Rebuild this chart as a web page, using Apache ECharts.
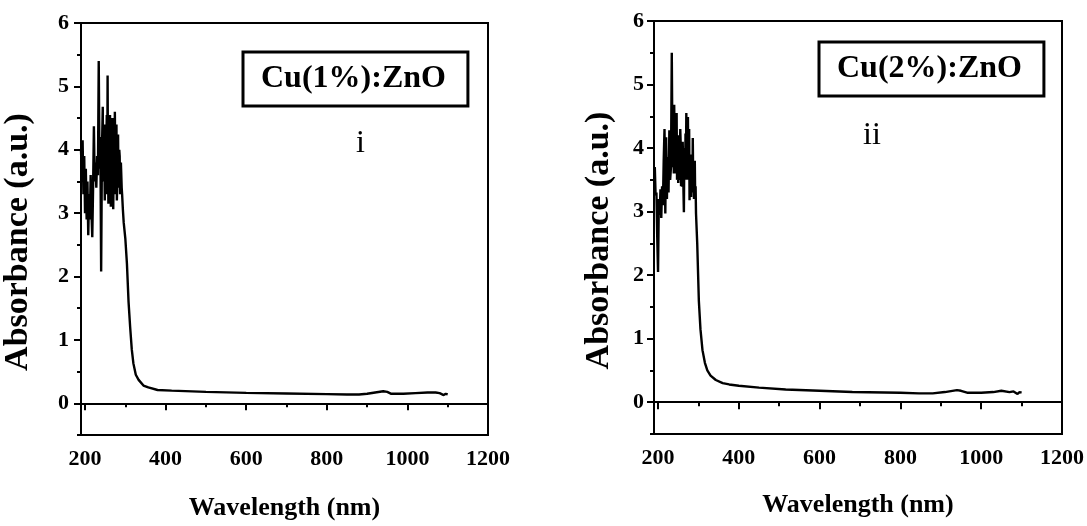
<!DOCTYPE html>
<html>
<head>
<meta charset="utf-8">
<script src="https://cdn.jsdelivr.net/npm/echarts@6.0.0/dist/echarts.min.js"></script>
<style>
  html, body { margin: 0; padding: 0; background: #fff; }
  #echart1 { width: 1087px; height: 526px; }
</style>
</head>
<body>
<div id="echart1"></div>
<script>
// tick labels
const xTicks = [200, 400, 600, 800, 1000, 1200];
const xMinor = [300, 500, 700, 900, 1100];
const yTicks = [0, 1, 2, 3, 4, 5, 6];
const yMinor = [-0.5, 0.5, 1.5, 2.5, 3.5, 4.5, 5.5];

// Cu(1%):ZnO
const wl1 = [
  190, 192, 194, 196, 198, 200, 202, 204, 206, 208,
  210, 212, 214, 216, 218, 220, 222, 224, 226, 228,
  230, 232, 234, 236, 238, 240, 242, 244, 245, 246,
  247, 248, 249, 250, 251, 252, 253, 254, 255, 256,
  257, 258, 259, 260, 261, 262, 263, 264, 265, 266,
  267, 268, 269, 270, 271, 272, 273, 274, 275, 276,
  277, 278, 279, 280, 281, 282, 283, 284, 285, 286,
  287, 288, 289, 290, 291, 292, 294, 296, 300, 304,
  308, 312, 316, 320, 326, 333, 345, 357, 380, 415,
  500, 600, 700, 800, 850, 880, 900, 920, 940, 950,
  960, 990, 1020, 1050, 1070, 1080, 1090, 1095, 1100];
const abs1 = [
  4.0, 3.6, 4.15, 3.3, 3.9, 3.0, 3.7, 2.9, 3.5, 2.65,
  3.3, 2.9, 3.6, 3.0, 2.62, 3.4, 4.37, 3.5, 3.8, 3.4,
  3.9, 3.6, 5.4, 3.7, 4.2, 2.08, 4.0, 4.68, 3.6, 3.5,
  4.1, 3.9, 3.2, 4.4, 3.7, 3.3, 4.2, 4.55, 3.4, 5.17,
  3.8, 3.15, 4.0, 4.3, 3.5, 4.55, 3.9, 3.1, 3.8, 4.2,
  3.3, 4.5, 3.9, 3.06, 3.7, 4.3, 3.5, 4.6, 4.0, 3.3,
  3.9, 4.4, 3.2, 3.5, 4.1, 4.24, 3.4, 3.6, 4.0, 3.9,
  3.3, 3.4, 3.8, 3.6, 3.4, 3.3, 3.05, 2.85, 2.6, 2.2,
  1.6, 1.2, 0.85, 0.63, 0.45, 0.37, 0.28, 0.25, 0.21, 0.2,
  0.18, 0.165, 0.155, 0.145, 0.14, 0.14, 0.15, 0.17, 0.19, 0.18,
  0.15, 0.15, 0.16, 0.17, 0.17, 0.16, 0.13, 0.15, 0.14];

// Cu(2%):ZnO
const wl2 = [
  192, 194, 196, 198, 200, 202, 204, 206, 208, 210,
  212, 214, 216, 218, 220, 222, 224, 226, 228, 230,
  232, 234, 236, 237, 238, 239, 240, 241, 242, 243,
  244, 245, 246, 247, 248, 249, 250, 251, 252, 253,
  254, 255, 256, 257, 258, 259, 260, 261, 262, 263,
  264, 265, 266, 267, 268, 269, 270, 271, 272, 273,
  274, 275, 276, 277, 278, 279, 280, 281, 282, 283,
  284, 285, 286, 287, 288, 289, 290, 291, 292, 293,
  294, 297, 301, 305, 310, 316, 322, 330, 343, 360,
  376, 400, 450, 516, 600, 681, 800, 846, 880, 910,
  940, 950, 965, 1000, 1030, 1050, 1070, 1080, 1090, 1095,
  1100];
const abs2 = [
  3.7, 3.25, 3.3, 2.6, 2.05, 3.2, 2.95, 3.35, 2.9, 3.4,
  3.1, 3.8, 4.3, 2.97, 4.17, 3.2, 3.86, 3.3, 4.28, 3.5,
  3.7, 5.5, 3.7, 4.4, 4.3, 3.6, 4.68, 4.1, 3.8, 4.4,
  3.6, 4.0, 4.55, 3.5, 3.7, 4.2, 3.45, 3.9, 4.12, 3.5,
  3.6, 4.3, 4.08, 3.4, 3.7, 4.0, 3.39, 4.1, 3.8, 3.3,
  2.99, 3.9, 4.0, 3.5, 4.23, 3.6, 4.55, 3.9, 3.5, 4.2,
  4.49, 3.6, 3.9, 4.3, 3.18, 3.7, 3.86, 3.4, 3.23, 3.9,
  3.7, 3.3, 4.16, 3.5, 3.6, 3.2, 3.45, 3.8, 3.2, 3.4,
  2.97, 2.5, 1.6, 1.15, 0.82, 0.62, 0.5, 0.42, 0.35, 0.3,
  0.28, 0.26, 0.23, 0.2, 0.18, 0.16, 0.15, 0.14, 0.14, 0.16,
  0.19, 0.18, 0.15, 0.15, 0.16, 0.18, 0.16, 0.17, 0.13, 0.16,
  0.15];

const serif = "'Liberation Serif', 'Times New Roman', serif";
const pair = (xs, ys) => xs.map((x, i) => [x, ys[i]]);
const plain = (v) => String(v);

const mainX = (g, gap) => ({
  type: "value", gridIndex: g, min: 190, max: 1200, position: "bottom",
  name: "Wavelength (nm)", nameLocation: "middle", nameGap: gap,
  nameTextStyle: { color: "#000", fontFamily: serif, fontWeight: "bold", fontSize: 26 },
  axisLine: { lineStyle: { color: "#000", width: 2 } },
  axisTick: { customValues: xTicks, length: 7, lineStyle: { color: "#000", width: 2 } },
  axisLabel: { customValues: xTicks, formatter: plain, margin: 13, color: "#000", fontFamily: serif, fontWeight: "bold", fontSize: 22 },
  splitLine: { show: false },
});
const minorX = (g) => ({
  type: "value", gridIndex: g, min: 190, max: 1200, position: "bottom",
  axisLine: { show: false },
  axisTick: { customValues: xMinor, length: 4, lineStyle: { color: "#000", width: 2 } },
  axisLabel: { show: false },
  splitLine: { show: false },
});
const mainY = (g, gap, margin) => ({
  type: "value", gridIndex: g, min: -0.5, max: 6, position: "left",
  name: "Absorbance (a.u.)", nameLocation: "middle", nameGap: gap,
  nameTextStyle: { color: "#000", fontFamily: serif, fontWeight: "bold", fontSize: 34, padding: [0, 26, 0, 0] },
  axisLine: { lineStyle: { color: "#000", width: 2 } },
  axisTick: { customValues: yTicks, length: 7, lineStyle: { color: "#000", width: 2 } },
  axisLabel: { customValues: yTicks, formatter: plain, margin: margin, color: "#000", fontFamily: serif, fontWeight: "bold", fontSize: 22 },
  splitLine: { show: false },
});
const minorY = (g) => ({
  type: "value", gridIndex: g, min: -0.5, max: 6, position: "left",
  axisLine: { show: false },
  axisTick: { customValues: yMinor, length: 4, lineStyle: { color: "#000", width: 2 } },
  axisLabel: { show: false },
  splitLine: { show: false },
});
const boxLegend = (name, left, top) => ({
  data: [name], left: left, top: top, orient: "horizontal",
  icon: "none", itemWidth: 0, itemHeight: 0, selectedMode: false,
  borderColor: "#000", borderWidth: 3, padding: [11, 22, 11, 13],
  textStyle: { color: "#000", fontFamily: serif, fontWeight: "bold", fontSize: 32, lineHeight: 32 },
});

let myChart = echarts.init(document.getElementById("echart1"));
myChart.setOption({
  animation: false,
  backgroundColor: "#fff",
  grid: [
    { left: 79, top: 23, right: 599, bottom: 83, show: true, borderColor: "#000", borderWidth: 2 },
    { left: 654, top: 21, right: 24, bottom: 92, show: true, borderColor: "#000", borderWidth: 2 },
  ],
  legend: [
    boxLegend("Cu(1%):ZnO", 243, 52),
    boxLegend("Cu(2%):ZnO", 819, 42),
  ],
  xAxis: [mainX(0, 60), minorX(0), mainX(1, 58), minorX(1)],
  yAxis: [mainY(0, 46, 12), minorY(0), mainY(1, 38, 10), minorY(1)],
  graphic: [
    { type: "text", left: 356, top: 128, style: { text: "i", fontFamily: serif, fontSize: 32, fill: "#000" } },
    { type: "text", left: 863, top: 120, style: { text: "ii", fontFamily: serif, fontSize: 32, fill: "#000" } },
  ],
  series: [
    {
      name: "Cu(1%):ZnO", type: "line", xAxisIndex: 0, yAxisIndex: 0,
      data: pair(wl1, abs1), showSymbol: false,
      lineStyle: { color: "#000", width: 2.4 }, itemStyle: { color: "#000" },
    },
    {
      name: "Cu(2%):ZnO", type: "line", xAxisIndex: 2, yAxisIndex: 2,
      data: pair(wl2, abs2), showSymbol: false,
      lineStyle: { color: "#000", width: 2.4 }, itemStyle: { color: "#000" },
    },
  ],
});
</script>
</body>
</html>
